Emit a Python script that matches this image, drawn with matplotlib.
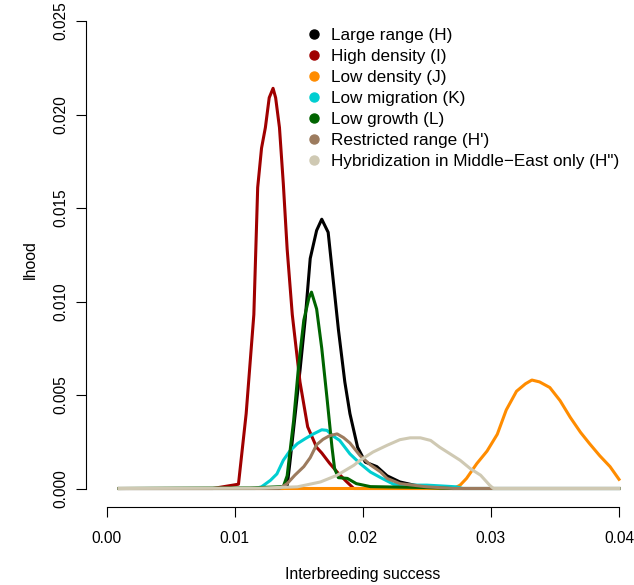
import matplotlib
matplotlib.use("Agg")
import matplotlib.pyplot as plt
from matplotlib.lines import Line2D

plt.rcParams['font.family'] = ['Liberation Sans', 'DejaVu Sans']

# curves (interbreeding success vs likelihood)
x_H = [0.001, 0.0138, 0.0141, 0.0143, 0.0147, 0.0151, 0.0155, 0.0159, 0.0164, 0.0168, 0.0173, 0.0177,
       0.0181, 0.0186, 0.0190, 0.0196, 0.0202, 0.0211, 0.0219, 0.0229, 0.0240, 0.0260, 0.040]
y_H = [0, 0, 0.00013, 0.0013, 0.0038, 0.0063, 0.0090, 0.0123, 0.0138, 0.0144, 0.0137, 0.0111,
       0.0085, 0.0057, 0.0040, 0.0022, 0.00141, 0.00117, 0.00068, 0.00035, 0.00018, 0, 0]

x_I = [0.001, 0.0083, 0.0103, 0.0109, 0.0115, 0.0118, 0.0121, 0.0124, 0.0127, 0.0130, 0.0132, 0.0135,
       0.0138, 0.0141, 0.0145, 0.0151, 0.0157, 0.0164, 0.0168, 0.0174, 0.0180, 0.0187, 0.0193, 0.040]
y_I = [0, 0, 0.00023, 0.0040, 0.0093, 0.0161, 0.0182, 0.0193, 0.0209, 0.0214, 0.0209, 0.0193,
       0.0163, 0.0128, 0.0093, 0.0057, 0.0033, 0.0022, 0.0019, 0.00136, 0.00088, 0.00039, 0, 0]

x_J = [0.001, 0.0271, 0.0276, 0.0281, 0.0289, 0.0297, 0.0305, 0.0312, 0.0320, 0.0327, 0.0332, 0.0338,
       0.0346, 0.0354, 0.0362, 0.0370, 0.0377, 0.0385, 0.0393, 0.0400]
y_J = [0, 0, 0.00018, 0.00054, 0.00133, 0.0020, 0.0029, 0.0042, 0.0052, 0.0056, 0.0058, 0.0057,
       0.0054, 0.0047, 0.0038, 0.0030, 0.0024, 0.00175, 0.00117, 0.00049]

x_K = [0.001, 0.0116, 0.0121, 0.0128, 0.0133, 0.0138, 0.0143, 0.0149, 0.0155, 0.0161, 0.0168, 0.0172,
       0.0177, 0.0182, 0.0190, 0.0198, 0.0206, 0.0214, 0.0224, 0.0237, 0.0250, 0.0263, 0.0273, 0.0278, 0.040]
y_K = [0, 0, 0.00009, 0.00044, 0.00078, 0.00151, 0.0020, 0.0024, 0.00266, 0.0029, 0.00314, 0.00311,
       0.0028, 0.00257, 0.00185, 0.00133, 0.00088, 0.00058, 0.00023, 0.00018, 0.00018, 0.00013, 0.00009, 0, 0]

x_L = [0.001, 0.0112, 0.0138, 0.0141, 0.0143, 0.0146, 0.0150, 0.0154, 0.0158, 0.0160, 0.0164, 0.0168,
       0.0172, 0.0176, 0.0178, 0.0181, 0.0188, 0.0195, 0.0206, 0.0250, 0.0270, 0.040]
y_L = [0, 0.00003, 0.0001, 0.00068, 0.00185, 0.0036, 0.0066, 0.0090, 0.0102, 0.0105, 0.0096, 0.0075,
       0.0049, 0.0022, 0.00107, 0.00058, 0.00054, 0.00026, 0.0001, 0.00005, 0, 0]

x_Hp = [0.001, 0.0135, 0.0141, 0.0147, 0.0154, 0.0159, 0.0164, 0.0169, 0.0174, 0.0180, 0.0185, 0.0190,
        0.0198, 0.0206, 0.0214, 0.0219, 0.0229, 0.0250, 0.0271, 0.040]
y_Hp = [0, 0, 0.00026, 0.00071, 0.00117, 0.00165, 0.00234, 0.00263, 0.00282, 0.00292, 0.00272, 0.00243,
        0.00175, 0.00126, 0.00088, 0.00054, 0.00026, 0.00009, 0, 0]

x_Hpp = [0.001, 0.0120, 0.0149, 0.0167, 0.0180, 0.0193, 0.0198, 0.0208, 0.0219, 0.0229, 0.0237, 0.0245,
         0.0253, 0.0260, 0.0268, 0.0276, 0.0284, 0.0292, 0.0299, 0.0302, 0.040]
y_Hpp = [0, 0.00002, 0.00009, 0.00035, 0.00071, 0.00124, 0.00151, 0.00195, 0.00231, 0.00261, 0.00271, 0.00271,
         0.00257, 0.00221, 0.00186, 0.00151, 0.00106, 0.00071, 0.00018, 0, 0]

labels = ["Large range (H)", "High density (I)", "Low density (J)", "Low migration (K)",
          "Low growth (L)", "Restricted range (H')", "Hybridization in Middle\u2212East only (H\")"]
colors = ["black", "#A00000", "#FF8C00", "#00CED1", "#006400", "#9C7B5E", "#CFC9B3"]
series = [(x_H, y_H), (x_I, y_I), (x_J, y_J), (x_K, y_K), (x_L, y_L), (x_Hp, y_Hp), (x_Hpp, y_Hpp)]

W, H = 634, 585
fig = plt.figure(figsize=(W / 100, H / 100), dpi=100)
ax = fig.add_axes([86 / W, 1 - 507.2 / H, 553.5 / W, 504.9 / H])

for (xs, ys), c in zip(series, colors):
    ax.plot(xs, ys, color=c, lw=2.2, solid_joinstyle='round')

ax.set_xlim(-0.0016, 0.0416)
ax.set_ylim(-0.001, 0.026)
ax.set_xticks([0, 0.01, 0.02, 0.03, 0.04])
ax.set_xticklabels(["0.00", "0.01", "0.02", "0.03", "0.04"])
ax.set_yticks([0, 0.005, 0.01, 0.015, 0.02, 0.025])
ax.set_yticklabels(["0.000", "0.005", "0.010", "0.015", "0.020", "0.025"],
                   rotation=90, va='center')

for s in ['top', 'right']:
    ax.spines[s].set_visible(False)
ax.spines['bottom'].set_bounds(0, 0.04)
ax.spines['left'].set_bounds(0, 0.025)
for s in ['bottom', 'left']:
    ax.spines[s].set_linewidth(0.8)
ax.tick_params(length=7, width=0.8, labelsize=11.2)
ax.tick_params(axis='x', pad=10)
ax.tick_params(axis='y', pad=6)

fig.text(362.8 / W, 1 - 575 / H, "Interbreeding success", ha='center', va='center', fontsize=11.4)
fig.text(30 / W, 1 - 259.6 / H, "lhood", rotation=90, ha='center', va='center', fontsize=11.4)

handles = [Line2D([], [], ls='none', marker='o', ms=6.5, color=c) for c in colors]
ax.legend(handles, labels, loc='upper left', bbox_to_anchor=(305.75 / W, 1 - 28.0 / H),
          bbox_transform=fig.transFigure, frameon=False, fontsize=12.3, borderpad=0,
          borderaxespad=0, handlelength=1.0, handletextpad=0.48, labelspacing=0.35)

fig.savefig("out.png", dpi=100)
